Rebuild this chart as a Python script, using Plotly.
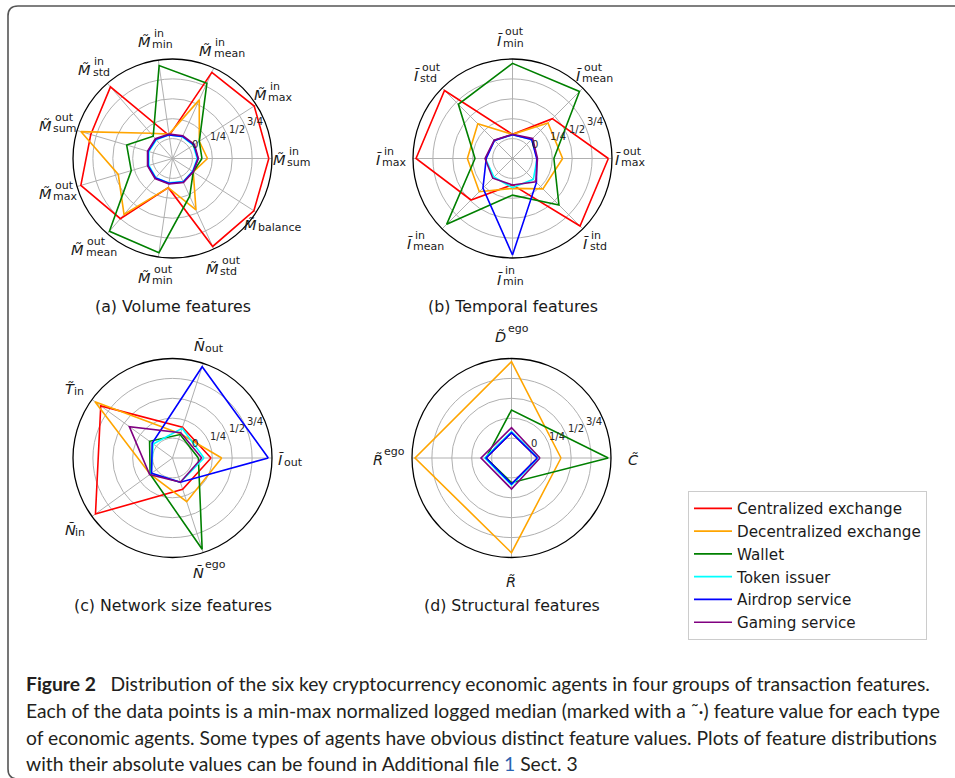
import math
import plotly.graph_objects as go

W, H = 955, 778
R_PX = 99.5
RMIN, RMAX = -0.25, 1.0

series_names = ["Centralized exchange", "Decentralized exchange", "Wallet",
                "Token issuer", "Airdrop service", "Gaming service"]
series_colors = ["#ff0000", "#ffa500", "#008000", "#00ffff", "#0000ff", "#800080"]

radial_tickvals = [0, 0.25, 0.5, 0.75]
radial_ticktext = ["0", "1/4", "1/2", "3/4"]

# (a) Volume features  (main symbol, superscript, subscript)
vol_main = ["M̃"] * 11
vol_sup = ["in", "in", "in", "in", "in", "out", "out", "out", "out", "out", ""]
vol_sub = ["sum", "max", "mean", "min", "std", "sum", "max", "mean", "min", "std", "balance"]
vol_cex = [0.96, 0.97, 0.94, 0.04, 0.94, 0.82, 0.95, 0.75, 0.12, 0.965, 0.965]
vol_dex = [0.19, 0.15, 0.56, 0.06, 0.17, 0.95, 0.46, 0.68, 0.12, 0.46, 0.06]
vol_wallet = [0.12, 0.15, 0.79, 0.93, 0.12, 0.35, 0.29, 0.96, 0.945, 0.27, 0.06]
vol_token = [0.06, 0.06, 0.05, 0.05, 0.06, 0.06, 0.06, 0.07, 0.06, 0.07, 0.05]
vol_airdrop = [0.07, 0.07, 0.055, 0.05, 0.07, 0.07, 0.07, 0.075, 0.065, 0.075, 0.055]
vol_gaming = [0.075, 0.077, 0.064, 0.06, 0.079, 0.077, 0.077, 0.085, 0.073, 0.082, 0.06]

# (b) Temporal features
tmp_main = ["Ĩ"] * 8
tmp_sup = ["out", "out", "out", "out", "in", "in", "in", "in"]
tmp_sub = ["max", "mean", "min", "std", "max", "mean", "min", "std"]
tmp_cex = [0.954, 0.458, 0.054, 0.958, 0.962, 0.487, 0.08, 0.95]
tmp_dex = [0.38, 0.38, 0.054, 0.366, 0.317, 0.34, 0.125, 0.29]
tmp_wallet = [0.27, 0.94, 0.945, 0.712, 0.221, 0.92, 0.21, 0.575]
tmp_token = [0.06, 0.09, 0.05, 0.07, 0.09, 0.08, 0.116, 0.12]
tmp_airdrop = [0.054, 0.09, 0.05, 0.07, 0.08, 0.275, 0.962, 0.175]
tmp_gaming = [0.064, 0.108, 0.054, 0.076, 0.095, 0.10, 0.083, 0.165]

# (c) Network size features
net_main = ["Ĩ", "Ñ", "T̃", "Ñ", "Ñ"]
net_sup = ["", "", "", "", "ego"]
net_sub = ["out", "out", "in", "in", ""]
net_cex = [0.234, 0.156, 0.864, 0.946, 0.164]
net_dex = [0.368, 0.07, 0.954, 0.097, 0.327]
net_wallet = [0.075, 0.06, 0.106, 0.097, 0.956]
net_token = [0.146, 0.143, 0.05, 0.08, 0.07]
net_airdrop = [0.954, 0.956, 0.066, 0.075, 0.07]
net_gaming = [0.117, 0.085, 0.42, 0.105, 0.07]

# (d) Structural features
str_main = ["C̃", "D̃", "R̃", "R̃"]
str_sup = ["", "ego", "ego", ""]
str_sub = ["", "", "", ""]
str_cex = [0.075, 0.068, 0.07, 0.077]
str_dex = [0.372, 0.96, 0.962, 0.94]
str_wallet = [0.966, 0.353, 0.07, 0.06]
str_token = [0.085, 0.08, 0.085, 0.09]
str_airdrop = [0.075, 0.068, 0.07, 0.077]
str_gaming = [0.108, 0.131, 0.133, 0.14]

panel_titles = ["(a) Volume features", "(b) Temporal features",
                "(c) Network size features", "(d) Structural features"]

caption_lines = [
    "<b>Figure 2</b>\u2002 Distribution of the six key cryptocurrency economic agents in four groups of transaction features.",
    "Each of the data points is a min-max normalized logged median (marked with a \u02dc\u00b7) feature value for each type",
    "of economic agents. Some types of agents have obvious distinct feature values. Plots of feature distributions",
    "with their absolute values can be found in Additional file <span style=\"color:#2a62b0\">1</span> Sect. 3",
]

# ---------------------------------------------------------------- layout helpers
panels = [
    dict(key="polar", cx=172.5, cy=158.5, main=vol_main, sup=vol_sup, sub=vol_sub,
         values=[vol_cex, vol_dex, vol_wallet, vol_token, vol_airdrop, vol_gaming], pad=20),
    dict(key="polar2", cx=512.5, cy=158.5, main=tmp_main, sup=tmp_sup, sub=tmp_sub,
         values=[tmp_cex, tmp_dex, tmp_wallet, tmp_token, tmp_airdrop, tmp_gaming], pad=20),
    dict(key="polar3", cx=172.5, cy=458.0, main=net_main, sup=net_sup, sub=net_sub,
         values=[net_cex, net_dex, net_wallet, net_token, net_airdrop, net_gaming], pad=20),
    dict(key="polar4", cx=511.5, cy=458.0, main=str_main, sup=str_sup, sub=str_sub,
         values=[str_cex, str_dex, str_wallet, str_token, str_airdrop, str_gaming], pad=23),
]
title_pos = [(172.5, 306), (512.5, 306), (172.5, 605), (512.0, 605)]

CW = {"a": .613, "b": .635, "c": .550, "d": .635, "e": .615, "g": .635, "i": .278,
      "l": .278, "m": .974, "n": .634, "o": .612, "s": .521, "t": .392, "u": .634,
      "x": .592, "r": .411, "M": .863, "I": .295, "N": .748, "T": .611, "D": .770,
      "R": .695, "C": .698, "Ĩ": .295, "Ñ": .748, "\u0303": 0.0}


def tw(s, size):
    return sum(CW.get(ch, 0.6) for ch in s) * size


def P(px, py):
    return px / W, 1 - py / H


FONT = "DejaVu Sans"
F_MAIN, F_SCR = 14.5, 11
annotations = []


def add_text(px, py, text, size, xanchor="center", yanchor="middle",
             color="#1a1a1a", family=FONT):
    x, y = P(px, py)
    annotations.append(dict(x=x, y=y, xref="paper", yref="paper", text=text,
                            showarrow=False, xanchor=xanchor, yanchor=yanchor,
                            borderpad=0, font=dict(family=family, size=size, color=color)))


fig = go.Figure()
layout_polars = {}
for pi, pn in enumerate(panels):
    n = len(pn["main"])
    cats = [f"{m} {a} {b}" for m, a, b in zip(pn["main"], pn["sup"], pn["sub"])]
    for si, (name, col) in enumerate(zip(series_names, series_colors)):
        vals = pn["values"][si]
        fig.add_trace(go.Scatterpolar(
            r=vals + vals[:1], theta=cats + cats[:1], mode="lines",
            line=dict(color=col, width=1.6), name=name, legendgroup=name,
            showlegend=(pi == 0), subplot=pn["key"], hoverinfo="name+r+theta"))
    cx, cy = pn["cx"], pn["cy"]
    layout_polars[pn["key"]] = dict(
        domain=dict(x=[(cx - R_PX) / W, (cx + R_PX) / W],
                    y=[1 - (cy + R_PX) / H, 1 - (cy - R_PX) / H]),
        bgcolor="white",
        radialaxis=dict(range=[RMIN, RMAX], tickvals=radial_tickvals, showticklabels=False,
                        ticks="", showline=False, gridcolor="#b0b0b0", gridwidth=1),
        angularaxis=dict(type="category", categoryarray=cats, rotation=0,
                         direction="counterclockwise", showticklabels=False, ticks="",
                         showline=True, linecolor="black", linewidth=1.3,
                         gridcolor="#b0b0b0", gridwidth=1),
    )
    # radial tick labels along 22.5 deg
    for v, t in zip(radial_tickvals, radial_ticktext):
        rr = (v - RMIN) / (RMAX - RMIN) * R_PX
        a = math.radians(22.5)
        add_text(cx + rr * math.cos(a), cy - rr * math.sin(a), t, 10,
                 xanchor="left", yanchor="bottom", color="#262626")
    # angular labels: italic symbol with stacked super/subscripts
    for i in range(n):
        th = math.radians(360.0 * i / n)
        dist = R_PX + pn["pad"]
        lx, ly = cx + dist * math.cos(th), cy - dist * math.sin(th) + 1.5
        m, su, sb = pn["main"][i], pn["sup"][i], pn["sub"][i]
        mw = tw(m, F_MAIN)
        sw = max(tw(su, F_SCR), tw(sb, F_SCR))
        total = mw + sw
        j = lx - total / 2 + mw
        tight = 0.0 if m.startswith("M") else -1.8
        add_text(j + 0.5, ly, f"<i>{m}</i>", F_MAIN, xanchor="right")
        if su:
            add_text(j + 1.5 + tight, ly - 8.5, su, F_SCR, xanchor="left")
        if sb:
            add_text(j - 0.3 + tight, ly + 2.5, sb, F_SCR, xanchor="left")

for t, (px, py) in zip(panel_titles, title_pos):
    add_text(px, py, t, 15.8)

cap_y = [683, 710, 737, 763]
for line, py in zip(caption_lines, cap_y):
    add_text(25, py, line, 19.3, xanchor="left", color="#231f20", family="Lato")


# frame
def fx(px):
    return px / W


def fy(py):
    return 1 - py / H


x0, y0, y1, rad = 8, 6, 779, 10
path = (f"M {fx(962)},{fy(y0)} L {fx(x0 + rad)},{fy(y0)} Q {fx(x0)},{fy(y0)} {fx(x0)},{fy(y0 + rad)} "
        f"L {fx(x0)},{fy(y1 - rad)} Q {fx(x0)},{fy(y1)} {fx(x0 + rad)},{fy(y1)} L {fx(962)},{fy(y1)}")

fig.update_layout(
    width=W, height=H, margin=dict(l=0, r=0, t=0, b=0),
    paper_bgcolor="white", plot_bgcolor="white",
    font=dict(family=FONT, size=12, color="#1a1a1a"),
    annotations=annotations,
    shapes=[dict(type="path", path=path, xref="paper", yref="paper",
                 line=dict(color="#555555", width=1.6))],
    legend=dict(x=688 / W, y=1 - 491 / H, xanchor="left", yanchor="top",
                bgcolor="white", bordercolor="#cccccc", borderwidth=1,
                font=dict(family=FONT, size=15.2, color="#1a1a1a"), itemwidth=38,
                tracegroupgap=0),
    showlegend=True,
    **layout_polars,
)

fig.write_html("out.html", config={"displayModeBar": False},
               post_script="document.body.style.margin='0px';document.body.style.overflow='hidden';")
